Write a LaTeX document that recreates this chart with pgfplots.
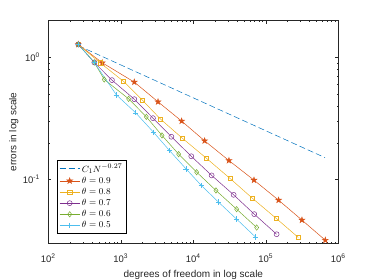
\documentclass[border=0pt]{standalone}
\usepackage{fontspec}
\setmainfont{Liberation Sans}
\usepackage{pgfplots}
\pgfplotsset{compat=1.18}
\usetikzlibrary{plotmarks}
\definecolor{mo}{rgb}{0.85,0.325,0.098}
\definecolor{my}{rgb}{0.929,0.694,0.125}
\definecolor{mp}{rgb}{0.494,0.184,0.556}
\definecolor{mg}{rgb}{0.466,0.674,0.188}
\definecolor{mc}{rgb}{0.301,0.745,0.933}
\definecolor{mb}{rgb}{0,0.447,0.741}
\definecolor{ax}{rgb}{0.15,0.15,0.15}
\pgfdeclareplotmark{pentagram}{%
  \pgfpathmoveto{\pgfpointpolar{90}{\pgfplotmarksize}}%
  \pgfpathlineto{\pgfpointpolar{126}{0.382\pgfplotmarksize}}%
  \pgfpathlineto{\pgfpointpolar{162}{\pgfplotmarksize}}%
  \pgfpathlineto{\pgfpointpolar{198}{0.382\pgfplotmarksize}}%
  \pgfpathlineto{\pgfpointpolar{234}{\pgfplotmarksize}}%
  \pgfpathlineto{\pgfpointpolar{270}{0.382\pgfplotmarksize}}%
  \pgfpathlineto{\pgfpointpolar{306}{\pgfplotmarksize}}%
  \pgfpathlineto{\pgfpointpolar{342}{0.382\pgfplotmarksize}}%
  \pgfpathlineto{\pgfpointpolar{18}{\pgfplotmarksize}}%
  \pgfpathlineto{\pgfpointpolar{54}{0.382\pgfplotmarksize}}%
  \pgfpathclose
  \pgfusepathqfillstroke
}
\begin{document}
\begin{tikzpicture}
\path[use as bounding box] (-48.3pt,-36.7pt) rectangle (325.7pt,243.3pt);
\begin{axis}[
  at={(0,0)}, anchor=south west,
  scale only axis, width=290pt, height=222.6pt,
  xmode=log, ymode=log,
  xmin=100, xmax=1e6, ymin=0.03, ymax=2,
  axis line style={ax, line width=0.5pt},
  tick style={ax, line width=0.4pt},
  major tick length=3pt, minor tick length=1.6pt,
  xtick={100,1000,10000,100000,1000000},
  xticklabels={10\textsuperscript{2},10\textsuperscript{3},10\textsuperscript{4},10\textsuperscript{5},10\textsuperscript{6}},
  ytick={0.1,1},
  yticklabels={10\textsuperscript{-1},10\textsuperscript{0}},
  tick label style={font=\fontsize{9.5}{11}\selectfont, text=ax},
  xticklabel style={yshift=-7pt},
  yticklabel style={xshift=-5pt},
  xlabel={degrees of freedom in log scale},
  ylabel={errors in log scale},
  label style={font=\fontsize{10}{12}\selectfont, text=ax},
  xlabel style={yshift=-0.5pt},
  ylabel style={yshift=-2.5pt},
  every axis plot/.append style={line width=0.5pt},
  legend style={at={(0.031,0.046)}, anchor=south west, draw=black, line width=0.4pt,
    font=\fontsize{9.5}{11}\selectfont, row sep=-0.6pt, inner xsep=2pt, inner ysep=1.5pt},
  legend cell align=left,
  legend image code/.code={\draw[mark repeat=2,mark phase=2] plot coordinates {(0cm,0cm) (0.35cm,0cm) (0.7cm,0cm)};},
]
\addplot[mb, dashed, dash pattern=on 6pt off 3pt] coordinates {(259,1.25) (655000,0.151)};
\addlegendentry{$C_1N^{-0.27}$}
\addplot[mo, mark=pentagram, mark size=3pt, mark options={solid, fill=mo}] coordinates {
(259,1.278) (556,0.904) (1535,0.628) (3260,0.433) (6900,0.301) (14320,0.2074)
(31000,0.143) (68700,0.0988) (150000,0.0677) (315000,0.0465) (662000,0.0318)};
\addlegendentry{$\theta=0.9$}
\addplot[my, mark=square, mark size=2.1pt] coordinates {
(259,1.278) (516,0.906) (1094,0.636) (1982,0.447) (3540,0.312) (7050,0.218)
(15100,0.1496) (32100,0.102) (65800,0.0699) (139700,0.0479) (280700,0.0335)};
\addlegendentry{$\theta=0.8$}
\addplot[mp, mark=o, mark size=2.5pt] coordinates {
(259,1.278) (431,0.910) (755,0.652) (1535,0.455) (2780,0.318) (4980,0.224)
(9380,0.155) (17900,0.108) (36000,0.0749) (69300,0.052) (141000,0.0356)};
\addlegendentry{$\theta=0.7$}
\addplot[mg, mark=diamond, mark size=2.7pt] coordinates {
(259,1.278) (431,0.910) (591,0.660) (1282,0.458) (2250,0.326) (3700,0.2295)
(6280,0.1613) (11120,0.1148) (20550,0.0813) (39600,0.0571) (74800,0.0404)};
\addlegendentry{$\theta=0.6$}
\addplot[mc, mark=+, mark size=2.7pt] coordinates {
(259,1.278) (431,0.910) (867,0.494) (1603,0.352) (2840,0.243) (4720,0.172)
(7930,0.1223) (12900,0.0893) (22300,0.0652) (39600,0.0473) (71600,0.0339)};
\addlegendentry{$\theta=0.5$}
\end{axis}
\end{tikzpicture}
\end{document}
